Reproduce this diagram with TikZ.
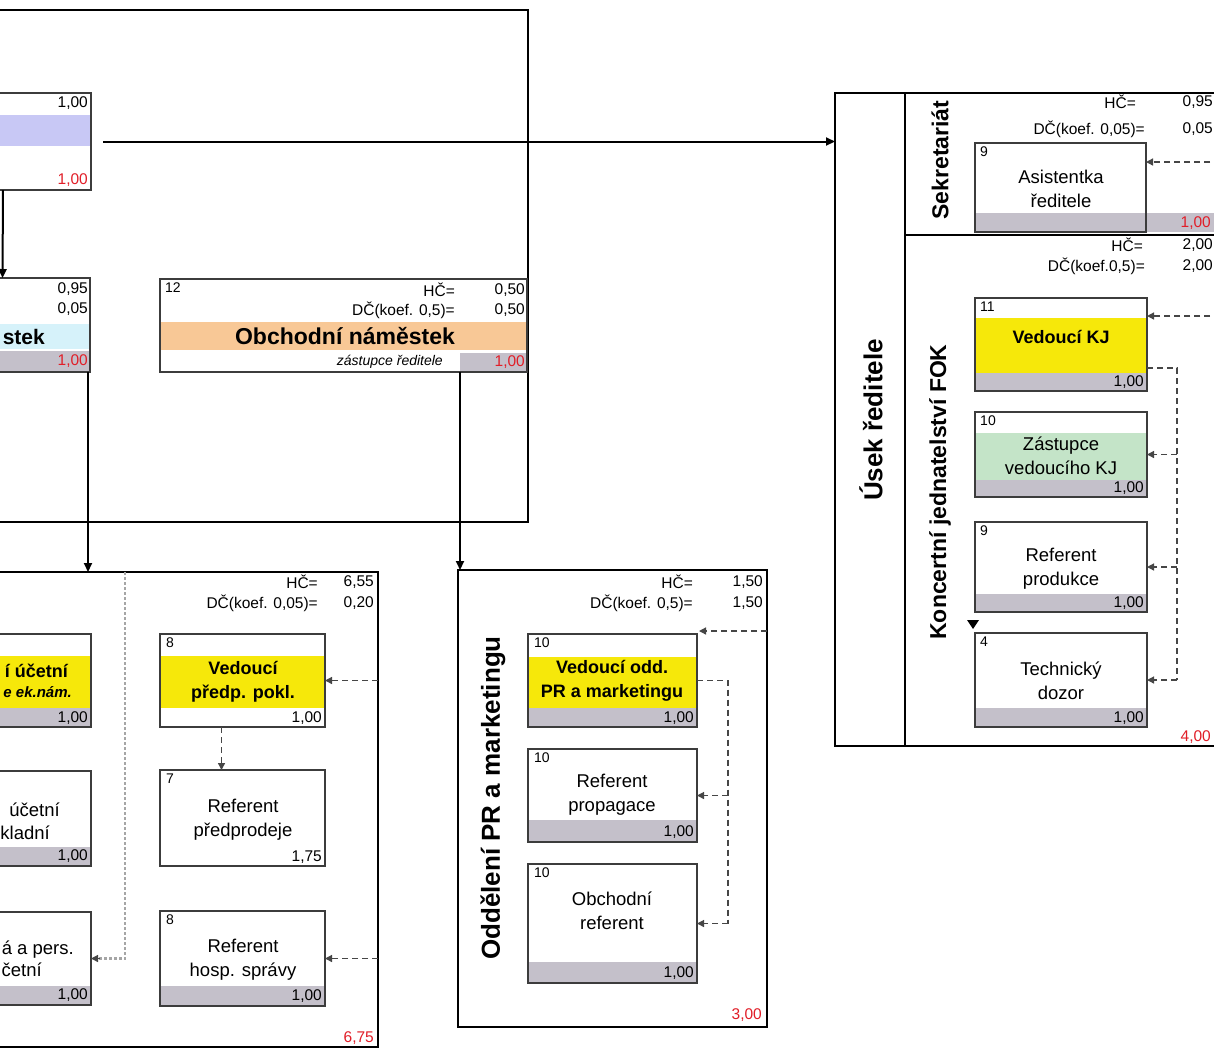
\documentclass[tikz,border=0pt]{standalone}
\usepackage{fontspec}
\setmainfont{Liberation Sans}
\usetikzlibrary{arrows.meta,calc}
\definecolor{lavband}{RGB}{200,200,245}
\definecolor{cyanband}{RGB}{214,242,250}
\definecolor{orangeband}{RGB}{248,200,150}
\definecolor{yellowband}{RGB}{246,232,10}
\definecolor{greenband}{RGB}{196,228,200}
\definecolor{greyband}{RGB}{196,192,202}
\definecolor{redtxt}{RGB}{225,30,40}
\definecolor{boxline}{RGB}{60,60,60}
\definecolor{dashcol}{RGB}{70,70,70}
\newcommand\rbox[6][pbox]{\node[#1, minimum width={#5-(#3)}, minimum height={#6-(#4)}, anchor=north west] (#2) at (#3,#4) {};}
\tikzset{
  pbox/.style={draw=boxline, line width=1.8pt, inner sep=0pt, outer sep=0pt},
  framebox/.style={draw=black, line width=2.4pt, inner sep=0pt, outer sep=0pt},
  frameline/.style={draw=black, line width=2.4pt},
  val/.style={font=\fontsize{15.5}{18}\selectfont, inner sep=0pt, anchor=east},
  rval/.style={val, text=redtxt},
  num/.style={font=\fontsize{14}{16}\selectfont, inner sep=0pt, anchor=north west},
  jname/.style={font=\fontsize{18.5}{24}\selectfont, inner sep=0pt, align=center},
  bname/.style={font=\bfseries\fontsize{18}{24}\selectfont, inner sep=0pt, align=center},
  vlabel/.style={font=\bfseries\fontsize{26}{30}\selectfont, inner sep=0pt, rotate=90},
  arr/.style={line width=2pt, -{Triangle[length=9pt,width=8pt]}},
  dline/.style={draw=dashcol, line width=1.3pt, dash pattern=on 6pt off 4pt},
  darr/.style={dline, -{Triangle[length=7pt,width=7pt]}},
  gdline/.style={draw=gray!70, line width=2.6pt, dash pattern=on 3pt off 2pt},
}
\begin{document}
\begin{tikzpicture}[x=1pt,y=-1pt]
\clip (0,0) rectangle (1214,1050);
\fill[white] (0,0) rectangle (1214,1050);

% ---------- outer frame ----------
\rbox[framebox]{outer}{-10}{10}{528}{522}

% ---------- director ----------
\fill[lavband] (-85,115) rectangle (91,146);
\rbox{dir}{-85}{93}{91}{190}
\node[val] at (88,103) {1,00};
\node[rval] at (88,180) {1,00};

% ---------- economic deputy ----------
\fill[cyanband] (-85,324) rectangle (90,349);
\fill[greyband] (-85,351) rectangle (90,372);
\rbox{ekon}{-85}{278}{90}{372}
\node[val] at (88,289) {0,95};
\node[val] at (88,309) {0,05};
\node[font=\bfseries\fontsize{21}{24}\selectfont, inner sep=0pt, anchor=east] at (45,337) {stek};
\node[rval] at (88,361) {1,00};

% ---------- commercial deputy ----------
\fill[orangeband] (160,322) rectangle (527,350);
\fill[greyband] (460,353) rectangle (527,372);
\rbox{obch}{160}{279}{527}{372}
\node[num] at (165,283) {12};
\node[val] at (455,290) {HČ=};
\node[val] at (525,290) {0,50};
\node[val] at (455,310) {DČ(koef. 0,5)=};
\node[val] at (525,310) {0,50};
\node[font=\bfseries\fontsize{23}{26}\selectfont, inner sep=0pt] at (345,336) {Obchodní náměstek};
\node[font=\itshape\fontsize{14}{16}\selectfont, inner sep=0pt, anchor=east] at (443,362) {zástupce ředitele};
\node[rval] at (525,362) {1,00};

% ---------- economic department ----------
\rbox[framebox]{ekdept}{-10}{572}{378}{1047}
\node[val] at (318,582) {HČ=};
\node[val] at (374,582) {6,55};
\node[val] at (318,603) {DČ(koef. 0,05)=};
\node[val] at (374,603) {0,20};
\node[rval] at (374,1038) {6,75};

\fill[yellowband] (-85,656) rectangle (91,708);
\fill[greyband] (-85,708) rectangle (91,727);
\rbox{lone}{-85}{634}{91}{727}
\node[font=\bfseries\fontsize{18}{24}\selectfont, inner sep=0pt, anchor=east] at (68,671) {í účetní};
\node[font=\bfseries\itshape\fontsize{15}{18}\selectfont, inner sep=0pt, anchor=east] at (72,692) {e ek.nám.};
\node[val] at (88,718) {1,00};

\fill[greyband] (-85,847) rectangle (91,866);
\rbox{ltwo}{-85}{771}{91}{866}
\node[font=\fontsize{18.5}{24}\selectfont, inner sep=0pt, anchor=east] at (60,810) {účetní};
\node[font=\fontsize{18.5}{24}\selectfont, inner sep=0pt, anchor=east] at (50,833) {kladní};
\node[val] at (88,856) {1,00};

\fill[greyband] (-85,986) rectangle (91,1005);
\rbox{lthree}{-85}{912}{91}{1005}
\node[font=\fontsize{18.5}{24}\selectfont, inner sep=0pt, anchor=east] at (74,950) {á a pers.};
\node[font=\fontsize{18.5}{24}\selectfont, inner sep=0pt, anchor=east] at (42,970) {četní};
\node[val] at (88,995) {1,00};

\fill[yellowband] (160,656) rectangle (325,708);
\rbox{vpp}{160}{634}{325}{727}
\node[num] at (166,638) {8};
\node[bname] at (243,682) {Vedoucí\\předp. pokl.};
\node[val] at (322,718) {1,00};

\rbox{rpp}{160}{770}{325}{866}
\node[num] at (166,774) {7};
\node[jname] at (243,820) {Referent\\předprodeje};
\node[val] at (322,857) {1,75};

\fill[greyband] (160,986) rectangle (325,1006);
\rbox{rhs}{160}{911}{325}{1006}
\node[num] at (166,915) {8};
\node[jname] at (243,960) {Referent\\hosp. správy};
\node[val] at (322,996) {1,00};

% ---------- PR department ----------
\rbox[framebox]{prdept}{458}{570}{767}{1027}
\node[val] at (693,582) {HČ=};
\node[val] at (763,582) {1,50};
\node[val] at (693,603) {DČ(koef. 0,5)=};
\node[val] at (763,603) {1,50};
\node[vlabel] at (493,798) {Oddělení PR a marketingu};
\node[rval] at (762,1015) {3,00};

\fill[yellowband] (528,657) rectangle (697,708);
\fill[greyband] (528,708) rectangle (697,727);
\rbox{vpr}{528}{634}{697}{727}
\node[num] at (534,638) {10};
\node[bname] at (612,681) {Vedoucí odd.\\PR a marketingu};
\node[val] at (694,718) {1,00};

\fill[greyband] (528,820) rectangle (697,842);
\rbox{rpr}{528}{749}{697}{842}
\node[num] at (534,753) {10};
\node[jname] at (612,795) {Referent\\propagace};
\node[val] at (694,832) {1,00};

\fill[greyband] (528,962) rectangle (697,983);
\rbox{obr}{528}{864}{697}{983}
\node[num] at (534,868) {10};
\node[jname] at (612,911) {Obchodní\\referent};
\node[val] at (694,973) {1,00};

% ---------- director's section ----------
\fill[greyband] (975,213) rectangle (1230,232);
\rbox[framebox]{usek}{835}{93}{1230}{746}
\draw[frameline] (905,93) -- (905,746);
\draw[frameline] (905,235) -- (1230,235);
\node[font=\bfseries\fontsize{26}{30}\selectfont, inner sep=0pt, rotate=90] at (871,420) {Úsek ředitele};
\node[font=\bfseries\fontsize{23}{26}\selectfont, inner sep=0pt, rotate=90] at (940,160) {Sekretariát};
\node[font=\bfseries\fontsize{23}{26}\selectfont, inner sep=0pt, rotate=90] at (940,492) {Koncertní jednatelství FOK};

\node[val] at (1136,102) {HČ=};
\node[val] at (1213,102) {0,95};
\node[val] at (1145,129) {DČ(koef. 0,05)=};
\node[val] at (1213,129) {0,05};
\rbox{asist}{975}{143}{1146}{232}
\node[num] at (980,147) {9};
\node[jname] at (1061,189) {Asistentka\\ředitele};
\node[rval] at (1211,223) {1,00};

\node[val] at (1143,245) {HČ=};
\node[val] at (1213,245) {2,00};
\node[val] at (1145,266) {DČ(koef.0,5)=};
\node[val] at (1213,266) {2,00};

\fill[yellowband] (975,318) rectangle (1147,373);
\fill[greyband] (975,373) rectangle (1147,391);
\rbox{vkj}{975}{298}{1147}{391}
\node[num] at (980,302) {11};
\node[bname] at (1061,337) {Vedoucí KJ};
\node[val] at (1144,382) {1,00};

\fill[greenband] (975,433) rectangle (1147,480);
\fill[greyband] (975,480) rectangle (1147,497);
\rbox{zkj}{975}{412}{1147}{497}
\node[num] at (980,416) {10};
\node[jname] at (1061,456) {Zástupce\\vedoucího KJ};
\node[val] at (1144,488) {1,00};

\fill[greyband] (975,594) rectangle (1147,612);
\rbox{rpd}{975}{522}{1147}{612}
\node[num] at (980,526) {9};
\node[jname] at (1061,569) {Referent\\produkce};
\node[val] at (1144,603) {1,00};

\fill[greyband] (975,708) rectangle (1147,727);
\rbox{tdz}{975}{633}{1147}{727}
\node[num] at (980,637) {4};
\node[jname] at (1061,681) {Technický\\dozor};
\node[val] at (1144,718) {1,00};
\node[rval] at (1211,737) {4,00};
\fill (967,620) -- (979,620) -- (973,629) -- cycle;

% ---------- solid connectors ----------
\coordinate (d0) at ($(dir.east)+(12,0)$);
\draw[arr] (d0) -- (d0 -| usek.west);
\draw[arr] (dir.south) -- (ekon.north);
\coordinate (e0) at ($(ekon.south east)+(-2,0)$);
\draw[arr] (e0) -- (e0 |- ekdept.north);
\coordinate (o0) at ($(obch.south west)+(300,0)$);
\draw[arr] (o0) -- (o0 |- prdept.north);

% ---------- dashed connectors ----------
\coordinate (g0) at ($(ekdept.north west)+(135,0)$);
\draw[gdline] (g0) -- (g0 |- lthree.east) -- ($(lthree.east)+(8,0)$);
\draw[darr] ($(lthree.east)+(9,0)$) -- (lthree.east);
\draw[darr] (vpp.east -| ekdept.east) -- (vpp.east);
\draw[darr] ($(vpp.south)+(-21,0)$) -- ($(rpp.north)+(-21,0)$);
\draw[darr] (rhs.east -| ekdept.east) -- (rhs.east);

\coordinate (p0) at ($(vpr.north east)+(2,-3)$);
\draw[darr] (p0 -| prdept.east) -- (p0);
\draw[dline] (vpr.east) -- ++(31,0) coordinate (pv) -- (pv |- obr.east);
\draw[darr] (pv |- rpr.east) -- (rpr.east);
\draw[darr] (pv |- obr.east) -- (obr.east);

\coordinate (s0) at ($(asist.north east)+(0,19)$);
\draw[darr] (s0 -| usek.east) -- (s0);
\coordinate (k0) at ($(vkj.north east)+(0,18)$);
\draw[darr] (k0 -| usek.east) -- (k0);
\coordinate (k1) at ($(vkj.south east)+(0,-23)$);
\draw[dline] (k1) -- ++(30,0) coordinate (kv) -- (kv |- tdz.east);
\draw[darr] (kv |- zkj.east) -- (zkj.east);
\draw[darr] (kv |- rpd.east) -- (rpd.east);
\draw[darr] (kv |- tdz.east) -- (tdz.east);
\end{tikzpicture}
\end{document}
